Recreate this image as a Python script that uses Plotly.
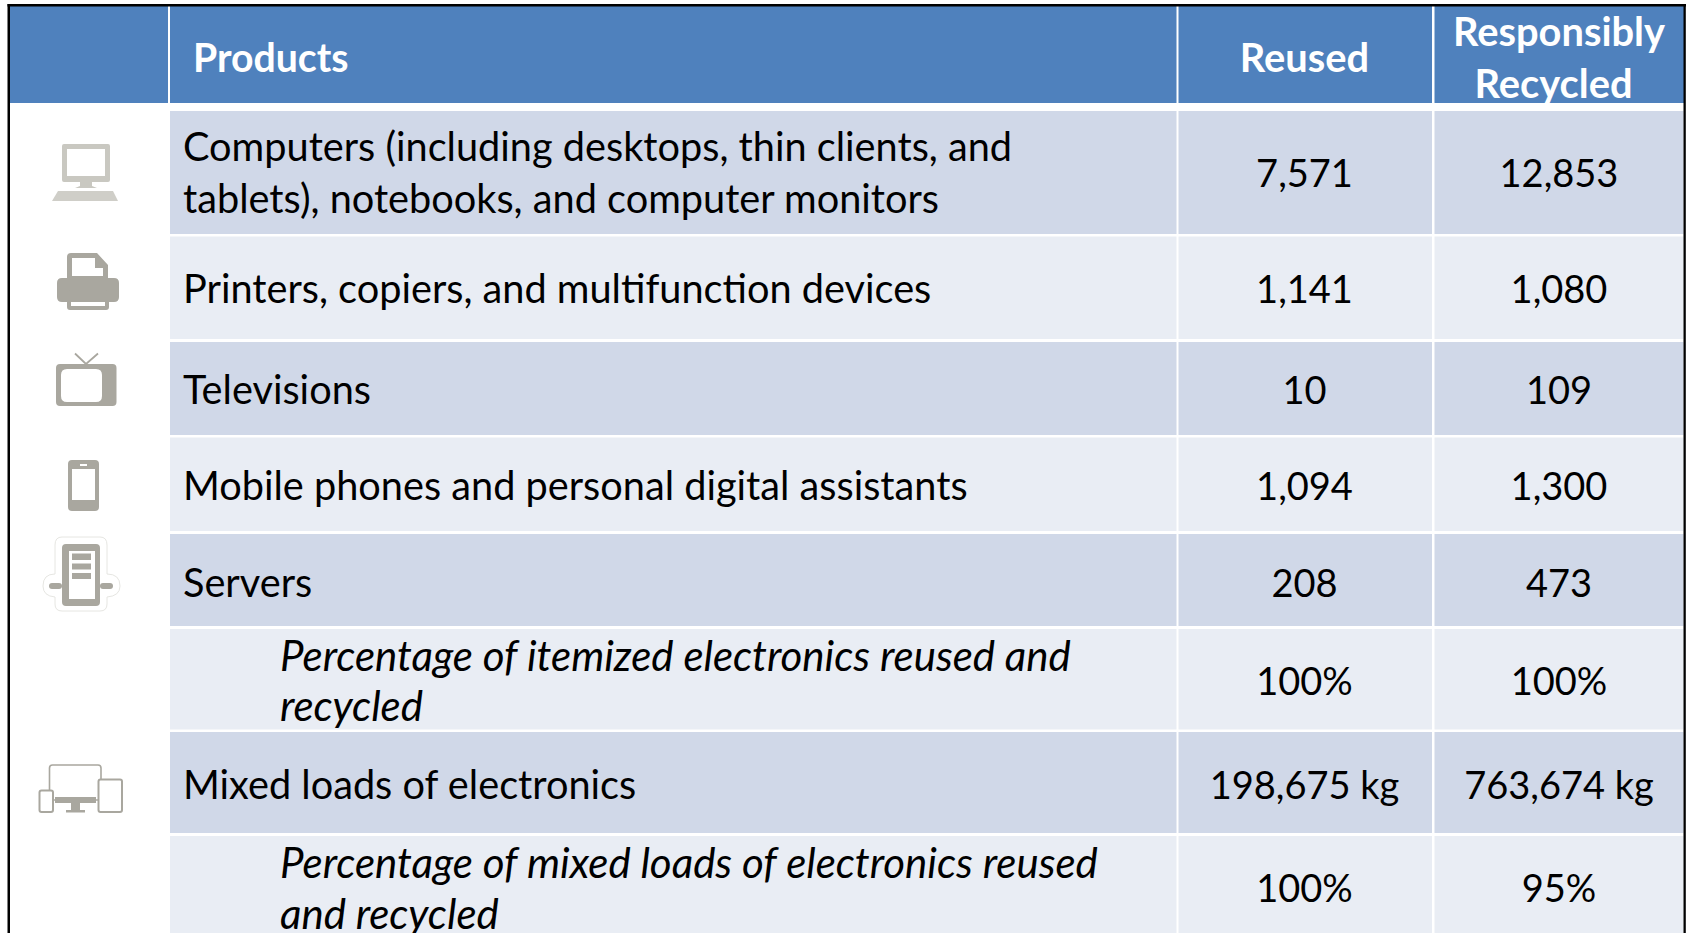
import plotly.graph_objects as go

# ---- table content ----
header_products = "Products"
header_reused = "Reused"
header_recycled = ["Responsibly", "Recycled"]
products = [
    ["Computers (including desktops, thin clients, and", "tablets), notebooks, and computer monitors"],
    ["Printers, copiers, and multifunction devices"],
    ["Televisions"],
    ["Mobile phones and personal digital assistants"],
    ["Servers"],
    ["Percentage of itemized electronics reused and", "recycled"],
    ["Mixed loads of electronics"],
    ["Percentage of mixed loads of electronics reused", "and recycled"],
]
italic_rows = [False, False, False, False, False, True, False, True]
reused = ["7,571", "1,141", "10", "1,094", "208", "100%", "198,675 kg", "100%"]
recycled = ["12,853", "1,080", "109", "1,300", "473", "100%", "763,674 kg", "95%"]

# ---- geometry of the grid (pixel-scaled axes) ----
W, H = 1686, 933
col_edges = [170, 1176.5, 1178.5, 1432, 1434.5, 1683.5]
row_edges = [(111, 234), (236.5, 339), (342, 435), (437.5, 531), (534, 626), (629, 729.5), (732, 833), (836, 933)]
line_y = [[151, 203], [293], [394], [490], [587], [660, 710], [789], [867, 918]]
value_y = [177, 293, 394, 490, 587, 685, 789, 892]
label_x = 183
italic_x = 280
reused_x = 1304.5
recycled_x = 1559
FONT = "Lato"
SIZE_VALUE = 38
SIZE_LABEL = 39.7
SIZE_ITALIC = 42
SIZE_HEAD = 39.8
DARK, LIGHT, BLUE, ICON = "#D0D8E8", "#E9EDF4", "#4F81BD", "#A9A79F"

shapes = []


def rect(x0, y0, x1, y1, color):
    shapes.append(dict(type="rect", xref="x", yref="y", x0=x0, y0=y0, x1=x1, y1=y1,
                       fillcolor=color, line=dict(width=0), layer="below"))


def rrect(x0, y0, x1, y1, r):
    return (f"M{x0+r},{y0} L{x1-r},{y0} Q{x1},{y0} {x1},{y0+r} L{x1},{y1-r} Q{x1},{y1} {x1-r},{y1} "
            f"L{x0+r},{y1} Q{x0},{y1} {x0},{y1-r} L{x0},{y0+r} Q{x0},{y0} {x0+r},{y0} Z")


def icon(path, color=ICON, fillrule="evenodd"):
    shapes.append(dict(type="path", xref="x", yref="y", path=path, fillcolor=color,
                       fillrule=fillrule, line=dict(width=0)))


def outline(path, color=ICON, width=1.5):
    shapes.append(dict(type="path", xref="x", yref="y", path=path,
                       fillcolor="rgba(0,0,0,0)", line=dict(color=color, width=width)))


# header and frame
rect(10, 6, 1684, 103, BLUE)
rect(168, 6, 170, 103, "#FFFFFF")
rect(1176.5, 6, 1178.5, 103, "#FFFFFF")
rect(1432, 6, 1434.5, 103, "#FFFFFF")
for r, (y0, y1) in enumerate(row_edges):
    c = DARK if r % 2 == 0 else LIGHT
    rect(col_edges[0], y0, col_edges[1], y1, c)
    rect(col_edges[2], y0, col_edges[3], y1, c)
    rect(col_edges[4], y0, col_edges[5], y1, c)
rect(7.5, 4, 10, H, "#000000")
rect(7.5, 4, 1686, 6.5, "#000000")
rect(1683.5, 4, 1685.8, H, "#000000")

# computer
icon(rrect(62, 144, 110, 182, 2) + " " + rrect(67, 149, 105, 176, 0), "#C9C8C1")
icon("M80,182 L92,182 L92,186 L97,188 L75,188 L80,186 Z", "#C9C8C1")
icon("M58,191 L113,191 L118,201 L52,201 Z", "#CFCEC8")
# printer
icon("M71,253 L97,253 L108,265 L108,279 L67,279 L67,257 Q67,253 71,253 Z "
     "M72,258 L72,276 L103,276 L103,268 L95,268 L95,258 Z")
icon(rrect(57, 278, 119, 302, 5))
icon("M109.5,283 a2,2 0 1,0 0.01,0 Z", "#FFFFFF")
icon(rrect(67, 290, 109, 310, 3) + " " + rrect(71, 295, 105, 306, 0))
# tv
icon(rrect(56, 364, 116.5, 406, 4) + " " + rrect(61, 369, 102, 402, 6))
icon("M108,369 a3,3 0 1,0 0.01,0 Z M108,378 a3,3 0 1,0 0.01,0 Z", "#FFFFFF")
outline("M75,353.5 L86,364 L98,353.5", ICON, 1.8)
# phone
icon(rrect(68, 460, 99, 511, 4) + " " + rrect(72, 469, 95, 500, 0))
icon("M80,464 L87,464 L87,466 L80,466 Z M83.5,502 a3,3 0 1,0 0.01,0 Z", "#FFFFFF")
# server
outline("M62,537 L100,537 Q107,537 107,545 L107,574 Q120,574 120,586 Q120,596 107,597 L107,604 Q107,611 100,611 "
        "L62,611 Q55,611 55,604 L55,597 Q43,596 43,586 Q43,574 55,574 L55,545 Q55,537 62,537 Z", "#E6E6E2", 1)
icon(rrect(62, 544, 100, 606, 4) + " " + rrect(69, 551, 95, 599, 0))
icon("M72,553.5 L91,553.5 L91,560 L72,560 Z M72,563.5 L91,563.5 L91,569.5 L72,569.5 Z M72,573 L91,573 L91,579 L72,579 Z")
icon(rrect(49, 583, 62, 589, 3))
icon(rrect(100, 583, 113, 589, 3))
# mixed devices
outline(rrect(49.5, 765, 101, 800, 3), ICON, 1.6)
icon("M55,797 L96,797 L96,803 L55,803 Z")
icon("M71,803 L80,803 L80,810 L85,810 L85,812.5 L66,812.5 L66,810 L71,810 Z")
shapes.append(dict(type="path", xref="x", yref="y", path=rrect(39.5, 790.5, 53, 812, 2),
                   fillcolor="#FFFFFF", line=dict(color=ICON, width=2)))
shapes.append(dict(type="path", xref="x", yref="y", path=rrect(98.5, 779.5, 122, 812, 2),
                   fillcolor="#FFFFFF", line=dict(color=ICON, width=2)))

fig = go.Figure()


def text_trace(x, y, text, position, size, color="#000000"):
    fig.add_trace(go.Scatter(x=x, y=y, text=text, mode="text", textposition=position,
                             textfont=dict(family=FONT, size=size, color=color),
                             cliponaxis=False, hoverinfo="skip"))


# left-aligned labels, upright and italic
ux, uy, ut, ix, iy, it = [], [], [], [], [], []
for r, lines in enumerate(products):
    for t, y in zip(lines, line_y[r]):
        if italic_rows[r]:
            ix.append(italic_x); iy.append(y); it.append(f"<i>{t}</i>")
        else:
            ux.append(label_x); uy.append(y); ut.append(t)
text_trace(ux, uy, ut, "middle right", SIZE_LABEL)
text_trace(ix, iy, it, "middle right", SIZE_ITALIC)
# value columns
text_trace([reused_x] * len(reused), value_y, reused, "middle center", SIZE_VALUE)
text_trace([recycled_x] * len(recycled), value_y, recycled, "middle center", SIZE_VALUE)
# header labels
text_trace([193], [62], [f"<b>{header_products}</b>"], "middle right", 39.2, "#FFFFFF")
text_trace([reused_x, 1559, 1553.5], [62, 36, 88],
           [f"<b>{t}</b>" for t in [header_reused] + header_recycled],
           "middle center", SIZE_HEAD, "#FFFFFF")

fig.update_layout(
    width=W, height=H, autosize=False,
    margin=dict(l=0, r=0, t=0, b=0, pad=0),
    paper_bgcolor="#FFFFFF", plot_bgcolor="#FFFFFF",
    showlegend=False, shapes=shapes,
    xaxis=dict(range=[0, W], visible=False, fixedrange=True),
    yaxis=dict(range=[H, 0], visible=False, fixedrange=True),
)
fig.write_html("out.html", config=dict(displayModeBar=False),
               post_script="document.body.style.margin='0';document.body.style.overflow='hidden';")
